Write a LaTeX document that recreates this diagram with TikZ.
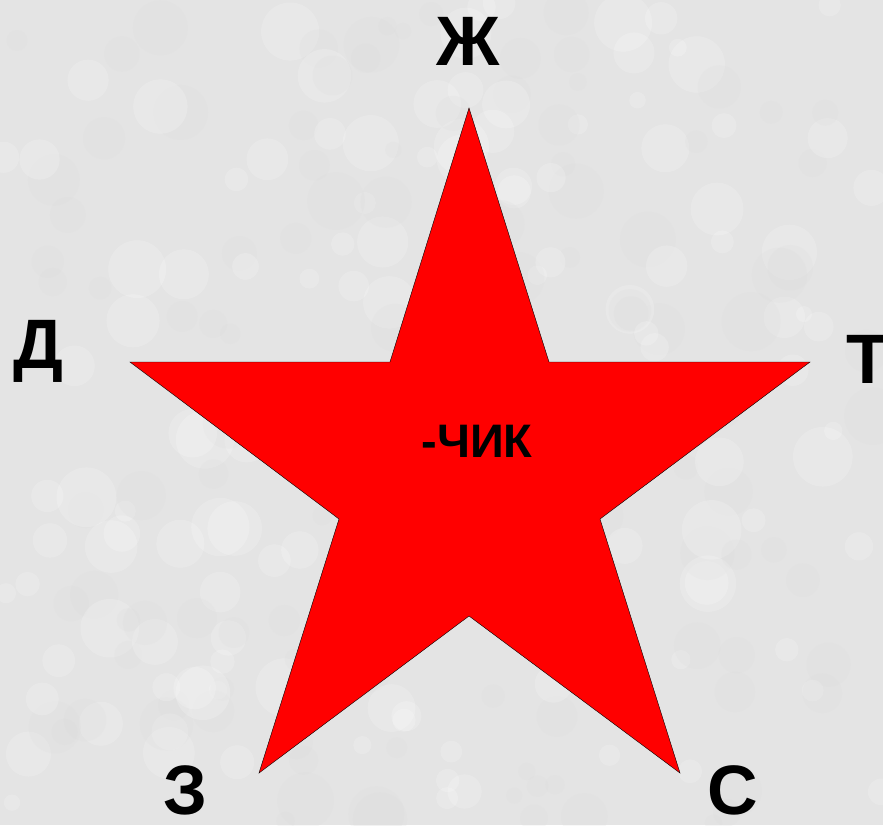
\documentclass[tikz,border=0pt]{standalone}
\usepackage{fontspec}
\setmainfont{Liberation Sans}
\definecolor{paper}{RGB}{228,228,228}
\definecolor{starred}{RGB}{255,0,0}

\begin{document}
\begin{tikzpicture}[x=1pt, y=-1pt,
  letter/.style={font=\fontsize{70}{70}\selectfont\bfseries, anchor=base, inner sep=0pt},
  suffix/.style={font=\fontsize{47}{47}\selectfont\bfseries, anchor=base, inner sep=0pt}]
  \fill[paper] (0,0) rectangle (883,825);
  \useasboundingbox (0,0) rectangle (883,825);
  % mottled background
  \pgfmathsetseed{7}
  \foreach \k in {1,...,260}{
    \pgfmathsetmacro\px{rnd*883}
    \pgfmathsetmacro\py{rnd*825}
    \pgfmathsetmacro\pr{8+rnd*22}
    \pgfmathsetmacro\pc{rnd>0.5 ? 100 : 70}
    \fill[white!\pc!gray, opacity=0.18] (\px,\py) circle (\pr);
  }
  % the star
  \draw[fill=starred, line join=miter, thin]
    (469,108)--(549,362)--(810,362)--(600,519)--(680,773)--(469,616)
    --(259,773)--(339,519)--(130,362)--(390,362)--cycle;
  \node[suffix] (chik) at (477,457) {-ЧИК};
  \node[letter] (zh) at (468,65) {Ж};
  \node[letter] (de) at (38,368) {Д};
  \node[letter] (te) at (868,383) {Т};
  \node[letter] (ze) at (185,814) {З};
  \node[letter] (es) at (733,814) {С};
\end{tikzpicture}
\end{document}
